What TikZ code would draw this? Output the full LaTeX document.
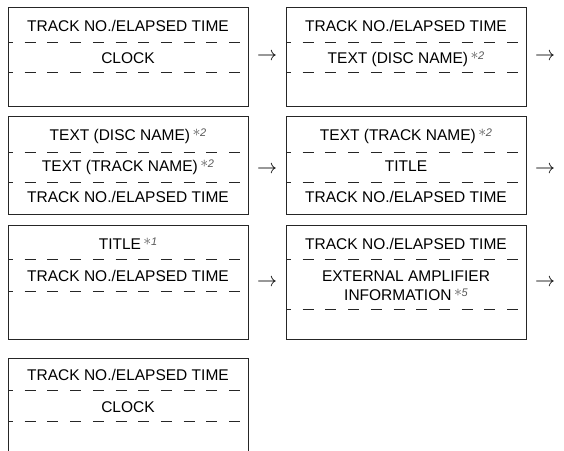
\documentclass[tikz,border=0pt]{standalone}
\usepackage{fontspec}
\setmainfont{Liberation Sans}
\usetikzlibrary{positioning}
\newcommand{\fnote}[1]{\textcolor{black!65}{\hspace{2.5pt}\raisebox{3.6pt}{\scalebox{1.1}{$\ast$}\kern-0.3pt\fontsize{11}{11}\selectfont\textit{#1}}}}

\begin{document}
\begin{tikzpicture}[x=1pt, y=-1pt,
    screen/.style={draw=black!85, line width=0.9pt, minimum width=240pt, inner sep=0pt, anchor=north west},
    sep/.style={draw=black!85, line width=0.9pt, dash pattern=on 11pt off 11.7pt, dash phase=6pt},
    line/.style={font=\fontsize{15.5}{18.3}\selectfont, inner sep=0pt, anchor=base, align=center},
    nxt/.style={inner sep=0pt}]
    \useasboundingbox (0,0) rectangle (564,450);

    % row 1
    \node[screen, minimum height=99pt] (s1) at (8,7) {};
    \node[screen, minimum height=99pt] (s2) at (286,7) {};
    \draw[sep] ([yshift=-35pt]s1.north west) -- ([yshift=-35pt]s1.north east);
    \draw[sep] ([yshift=-65pt]s1.north west) -- ([yshift=-65pt]s1.north east);
    \draw[sep] ([yshift=-35pt]s2.north west) -- ([yshift=-35pt]s2.north east);
    \draw[sep] ([yshift=-65pt]s2.north west) -- ([yshift=-65pt]s2.north east);
    \node[line] (s1a) at (128,31.5) {TRACK NO./ELAPSED TIME};
    \node[line] (s1b) at (128,63.3) {CLOCK};
    \node[line] (s2a) at (406,31.5) {TRACK NO./ELAPSED TIME};
    \node[line] (s2b) at (406,63.3) {TEXT (DISC NAME)\fnote{2}};
    \node[nxt] (n1) at (267,57) {\scalebox{2}{$\rightarrow$}};
    \node[nxt] (n2) at (545,57) {\scalebox{2}{$\rightarrow$}};

    % row 2
    \node[screen, minimum height=98pt] (s3) at (8,116) {};
    \node[screen, minimum height=98pt] (s4) at (286,116) {};
    \draw[sep] ([yshift=-36pt]s3.north west) -- ([yshift=-36pt]s3.north east);
    \draw[sep] ([yshift=-66pt]s3.north west) -- ([yshift=-66pt]s3.north east);
    \draw[sep] ([yshift=-36pt]s4.north west) -- ([yshift=-36pt]s4.north east);
    \draw[sep] ([yshift=-66pt]s4.north west) -- ([yshift=-66pt]s4.north east);
    \node[line] (s3a) at (128,140) {TEXT (DISC NAME)\fnote{2}};
    \node[line] (s3b) at (128,171) {TEXT (TRACK NAME)\fnote{2}};
    \node[line] (s3c) at (128,202) {TRACK NO./ELAPSED TIME};
    \node[line] (s4a) at (406,140) {TEXT (TRACK NAME)\fnote{2}};
    \node[line] (s4b) at (406,171) {TITLE};
    \node[line] (s4c) at (406,202) {TRACK NO./ELAPSED TIME};
    \node[nxt] (n3) at (267,170) {\scalebox{2}{$\rightarrow$}};
    \node[nxt] (n4) at (545,170) {\scalebox{2}{$\rightarrow$}};

    % row 3
    \node[screen, minimum height=114pt] (s5) at (8,225) {};
    \node[screen, minimum height=114pt] (s6) at (286,225) {};
    \draw[sep] ([yshift=-34pt]s5.north west) -- ([yshift=-34pt]s5.north east);
    \draw[sep] ([yshift=-66pt]s5.north west) -- ([yshift=-66pt]s5.north east);
    \draw[sep] ([yshift=-34pt]s6.north west) -- ([yshift=-34pt]s6.north east);
    \draw[sep] ([yshift=-84pt]s6.north west) -- ([yshift=-84pt]s6.north east);
    \node[line] (s5a) at (128,249) {TITLE\fnote{1}};
    \node[line] (s5b) at (128,281.7) {TRACK NO./ELAPSED TIME};
    \node[line] (s6a) at (406,249) {TRACK NO./ELAPSED TIME};
    \node[line] (s6b) at (406,300) {EXTERNAL AMPLIFIER\\INFORMATION\fnote{5}};
    \node[nxt] (n5) at (267,283) {\scalebox{2}{$\rightarrow$}};
    \node[nxt] (n6) at (545,283) {\scalebox{2}{$\rightarrow$}};

    % row 4, cut off at the bottom
    \coordinate (s7l) at (8,452);
    \coordinate (s7r) at (248,452);
    \coordinate (s7) at (8,358);
    \draw[draw=black!85, line width=0.9pt] (s7l) |- (s7r |- s7) -- (s7r);
    \draw[sep] ([yshift=-32pt]s7) -- ([yshift=-32pt]s7 -| s7r);
    \draw[sep] ([yshift=-63pt]s7) -- ([yshift=-63pt]s7 -| s7r);
    \node[line] (s7a) at (128,380) {TRACK NO./ELAPSED TIME};
    \node[line] (s7b) at (128,412) {CLOCK};
\end{tikzpicture}
\end{document}
